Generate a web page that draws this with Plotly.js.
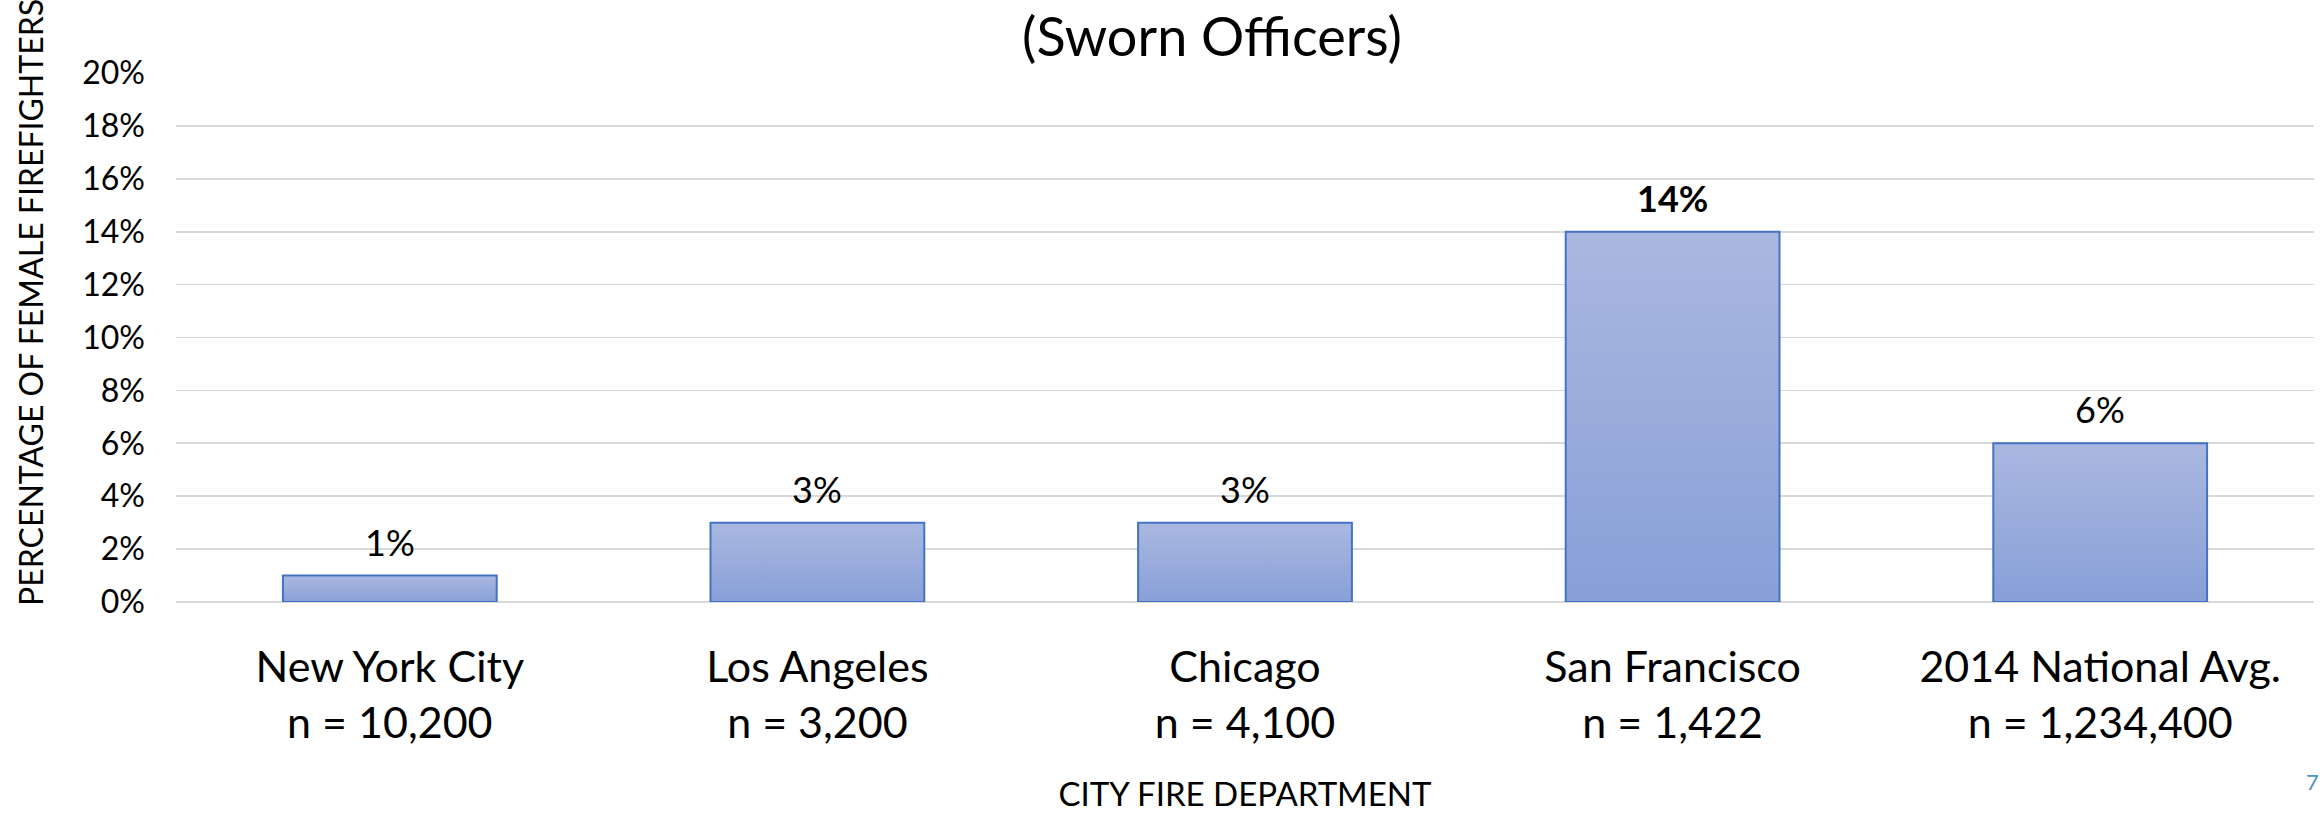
<!DOCTYPE html>
<html>
<head>
<meta charset="utf-8">
<script src="https://cdn.plot.ly/plotly-3.0.1.min.js"></script>
<style>
  html, body { margin: 0; padding: 0; background: #ffffff; }
  #chart { width: 2323px; height: 816px; }
</style>
</head>
<body>
<div id="chart"></div>
<script>
// ---- data ----
const categories = ['New York City', 'Los Angeles', 'Chicago', 'San Francisco', '2014 National Avg.'];
const sampleSizes = ['10,200', '3,200', '4,100', '1,422', '1,234,400'];
const femalePct = [1, 3, 3, 14, 6];
const yTickValues = [0, 2, 4, 6, 8, 10, 12, 14, 16, 18, 20];
const yTickLabels = ['0%', '2%', '4%', '6%', '8%', '10%', '12%', '14%', '16%', '18%', '20%'];
const chartTitle = '(Sworn Officers)';
const yTitle = 'PERCENTAGE OF FEMALE FIREFIGHTERS';
const xTitle = 'CITY FIRE DEPARTMENT';
const pageNumber = '7';

// ---- build ----
const FONT = 'Lato, "Open Sans", sans-serif';
const tickText = categories.map((c, i) => c + '<br>n = ' + sampleSizes[i]);
const maxIdx = femalePct.indexOf(Math.max(...femalePct));

const trace = {
  type: 'bar',
  x: categories,
  y: femalePct,
  marker: { color: '#98ABDB', line: { color: '#4472C4', width: 2 } },
  hoverinfo: 'x+y'
};

const valueAnnotations = categories.map((c, i) => ({
  x: c, y: femalePct[i], xref: 'x', yref: 'y',
  text: i === maxIdx ? '<b>' + femalePct[i] + '%</b>' : femalePct[i] + '%',
  showarrow: false, yanchor: 'bottom', yshift: 10,
  font: { family: FONT, size: 36, color: '#000000' }
}));

const layout = {
  width: 2323, height: 816,
  margin: { l: 176, r: 9, t: 73, b: 214 },
  paper_bgcolor: '#ffffff', plot_bgcolor: '#ffffff',
  showlegend: false,
  bargap: 0.5,
  font: { family: FONT, color: '#000000' },
  title: {
    text: chartTitle,
    font: { family: FONT, size: 54, color: '#000000' },
    x: 1212 / 2323, xref: 'container', xanchor: 'center',
    y: 1 - 56 / 816, yref: 'container', yanchor: 'bottom'
  },
  xaxis: {
    type: 'category',
    tickmode: 'array', tickvals: categories, ticktext: tickText,
    tickfont: { family: FONT, size: 43, color: '#000000' },
    ticks: '', showline: false, showgrid: false, zeroline: false,
    ticklabelstandoff: 36,
    title: { text: xTitle, font: { family: FONT, size: 33, color: '#000000' }, standoff: 36 },
    automargin: false
  },
  yaxis: {
    range: [0, 20],
    tickmode: 'array', tickvals: yTickValues, ticktext: yTickLabels,
    tickfont: { family: FONT, size: 32, color: '#000000' },
    ticks: '', showline: false,
    showgrid: true, gridcolor: '#D9D9D9', gridwidth: 1.6,
    zeroline: true, zerolinecolor: '#D9D9D9', zerolinewidth: 1.6,
    ticklabelstandoff: 30,
    automargin: false
  },
  annotations: valueAnnotations.concat([
    {
      xref: 'paper', yref: 'paper', x: (30 - 176) / 2138, y: (602 - 303) / 529,
      xanchor: 'center', yanchor: 'middle', textangle: -90, showarrow: false,
      text: yTitle, font: { family: FONT, size: 32, color: '#000000' }
    },
    {
      xref: 'paper', yref: 'paper', x: (2321 - 176) / 2138, y: (602 - 781) / 529,
      xanchor: 'right', yanchor: 'middle', showarrow: false,
      text: pageNumber, font: { family: FONT, size: 22, color: '#4A90C4' }
    }
  ])
};

const gd = document.getElementById('chart');
Plotly.newPlot(gd, [trace], layout, { displayModeBar: false, staticPlot: true }).then(() => {
  // vertical gradient fill for each bar, like the original
  const svg = gd.querySelector('svg.main-svg');
  let defs = svg.querySelector('defs');
  const NS = 'http://www.w3.org/2000/svg';
  if (!defs) { defs = document.createElementNS(NS, 'defs'); svg.insertBefore(defs, svg.firstChild); }
  const grad = document.createElementNS(NS, 'linearGradient');
  grad.setAttribute('id', 'barGradient');
  grad.setAttribute('x1', '0'); grad.setAttribute('y1', '0');
  grad.setAttribute('x2', '0'); grad.setAttribute('y2', '1');
  [['0', '#AAB8E0'], ['1', '#889FD7']].forEach(([o, c]) => {
    const s = document.createElementNS(NS, 'stop');
    s.setAttribute('offset', o); s.setAttribute('stop-color', c);
    grad.appendChild(s);
  });
  defs.appendChild(grad);
  gd.querySelectorAll('.barlayer .point path').forEach(p => { p.style.fill = 'url(#barGradient)'; });
});
</script>
</body>
</html>
